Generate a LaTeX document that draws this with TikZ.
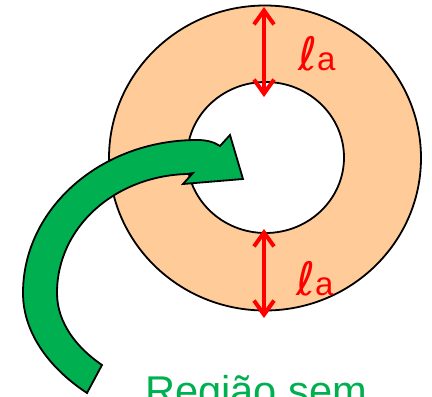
\documentclass[tikz,border=0pt]{standalone}
\usepackage{fontspec}
\setmainfont{Liberation Sans}
\newfontfamily\ellfont{DejaVu Sans}
\usetikzlibrary{arrows.meta}
\definecolor{peach}{HTML}{FFCC99}
\definecolor{pgreen}{HTML}{00B050}
\definecolor{pred}{HTML}{FF0000}
\tikzset{
  ring/.style={draw=black, line width=1.8pt},
  barb/.tip={Straight Barb[length=14pt,width=20pt,line width=4pt]},
  dim/.style={draw=pred, line width=4pt, barb-barb},
  lbl/.style={text=pred, inner sep=0pt, anchor=base west},
}
\begin{document}
\begin{tikzpicture}[x=1pt,y=-1pt]
\useasboundingbox (0,0) rectangle (432,397);
\clip (0,0) rectangle (432,397);
% ring
\filldraw[ring, fill=peach] (265,158) ellipse [x radius=156, y radius=152.5];
\filldraw[ring, fill=white] (265.5,157.5) ellipse [x radius=78.5, y radius=75.5];
% green curved arrow
\filldraw[draw=black, line width=1.8pt, fill=pgreen, line join=miter]
  (87,393) .. controls (52,370) and (23,335) .. (23,293)
  .. controls (23,208.5) and (101,140) .. (197,140)
  .. controls (207,140) and (214,142) .. (220,146)
  -- (230,135) -- (243,179) -- (183,184) -- (193,173) -- (187,174)
  .. controls (115,176) and (57,227) .. (57,293)
  .. controls (57,323) and (77,348) .. (102,365)
  -- cycle;
% dimension arrows
\coordinate (t1) at (264,7);
\coordinate (t2) at (264,97);
\coordinate (b1) at (264,229);
\coordinate (b2) at (264,318);
\draw[dim] (t1) -- (t2);
\draw[dim] (b1) -- (b2);
\node[lbl] (la1) at (298,70) {{\ellfont\fontsize{46}{46}\selectfont ℓ}{\fontsize{33}{33}\selectfont a}};
\node[lbl] (la2) at (296,295) {{\ellfont\fontsize{46}{46}\selectfont ℓ}{\fontsize{33}{33}\selectfont a}};
% text
\node[text=pgreen, inner sep=0pt, anchor=base west, font=\fontsize{41.6}{41.6}\selectfont] (txt) at (145,405) {Região sem};
\end{tikzpicture}
\end{document}
